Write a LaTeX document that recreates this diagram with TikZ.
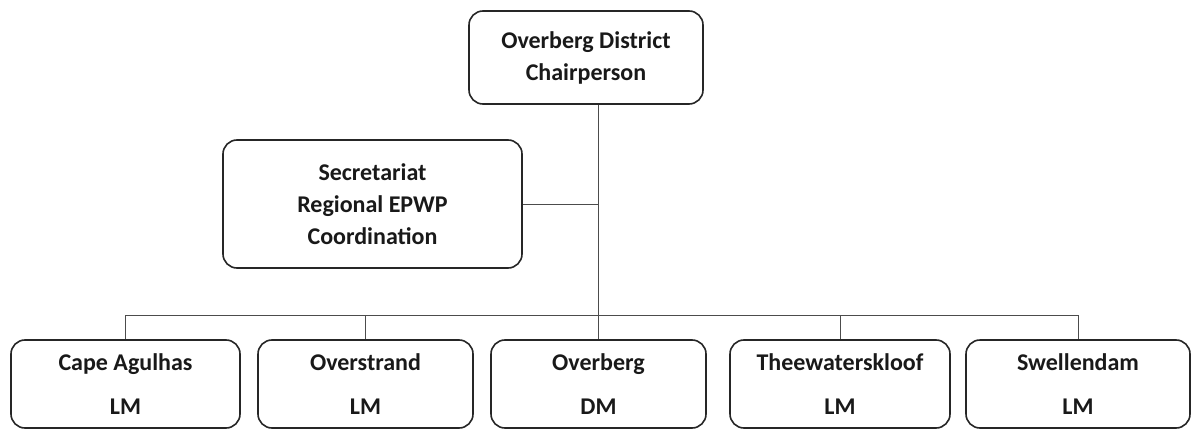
\documentclass[tikz,border=0pt]{standalone}
\usepackage{fontspec}
\setmainfont{Carlito}
\begin{document}
\begin{tikzpicture}[x=1pt,y=1pt,
  box/.style={draw=black!85, line width=1.6pt, rounded corners=14pt, fill=white,
    align=center, inner sep=0pt, font=\bfseries\fontsize{24}{32}\selectfont, text=black!90},
  lowbox/.style={box, minimum height=88pt, font=\bfseries\fontsize{24}{44}\selectfont},
  link/.style={draw=black!70, line width=0.8pt}]
\useasboundingbox (0,0) rectangle (1193,429);
\node[box, minimum width=234pt, minimum height=93pt] (top) at (586,371.5) {Overberg District\\Chairperson};
\node[box, minimum width=299pt, minimum height=128pt] (sec) at (372.5,225) {Secretariat\\Regional EPWP\\Coordination};
\node[lowbox, minimum width=229pt] (ca) at (125.5,45) {Cape Agulhas\\LM};
\node[lowbox, minimum width=215pt] (os) at (365.5,45) {Overstrand\\LM};
\node[lowbox, minimum width=215pt] (dm) at (598.5,45) {Overberg\\DM};
\node[lowbox, minimum width=220pt] (tw) at (840,45) {Theewaterskloof\\LM};
\node[lowbox, minimum width=224pt] (sw) at (1078,45) {Swellendam\\LM};
\coordinate (bus) at (0,114);
\draw[link] (top.south -| dm.north) -- (dm.north);
\draw[link] (sec.east) -- (sec.east -| dm.north);
\draw[link] (ca.north |- bus) -- (sw.north |- bus);
\foreach \n in {ca,os,tw,sw} \draw[link] (\n.north |- bus) -- (\n.north);
\end{tikzpicture}
\end{document}
